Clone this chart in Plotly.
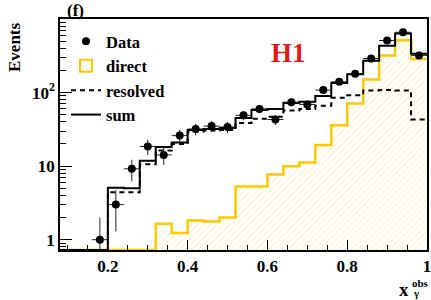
import plotly.graph_objects as go

# ---- data ----
bin_lo = [0.08, 0.12, 0.16, 0.20, 0.24, 0.28, 0.32, 0.36, 0.40, 0.44, 0.48, 0.52,
          0.56, 0.60, 0.64, 0.68, 0.72, 0.76, 0.80, 0.84, 0.88, 0.92, 0.96]
bin_hi_last = 1.0
direct = [0, 0, 0, 0, 0, 0, 1.65, 1.23, 1.83, 1.77, 2.01, 5.3,
          5.3, 7.7, 9.95, 11.2, 19.4, 36, 71, 150, 320, 515, 285]
resolved = [0, 0, 0, 4.4, 4.4, 10.6, 16.3, 20, 29.5, 30.5, 31, 38.5,
            44, 47, 57, 60, 66, 85, 92, 107, 108, 107, 43]
total = [0, 0, 0, 5.1, 5.0, 11.8, 18.2, 21, 31, 32, 33, 45,
         58, 60, 72, 75, 90, 135, 178, 270, 432, 635, 338]

data_x = [0.18, 0.22, 0.26, 0.30, 0.34, 0.38, 0.42, 0.46, 0.50, 0.54, 0.58,
          0.62, 0.66, 0.70, 0.74, 0.78, 0.82, 0.86, 0.90, 0.94, 0.98]
data_y = [1, 3, 9.2, 18.5, 14.2, 26, 32, 35, 34, 49, 60,
          43, 74, 69, 108, 140, 180, 290, 510, 660, 320]
data_err_hi = [1, 1.7, 3, 4.3, 3.8, 5.1, 5.7, 5.9, 5.8, 7, 7.7,
               6.6, 8.6, 8.3, 10.4, 11.8, 13.4, 17, 22.6, 25.7, 17.9]
data_err_lo = [0.99, 1.7, 3, 4.3, 3.8, 5.1, 5.7, 5.9, 5.8, 7, 7.7,
               6.6, 8.6, 8.3, 10.4, 11.8, 13.4, 17, 22.6, 25.7, 17.9]
half_bin = 0.02

YLOG = [-0.14, 3.0]
ymin = 10 ** YLOG[0]

def step(vals):
    v = [x if x > 0 else ymin for x in vals]
    return list(bin_lo) + [bin_hi_last], v + [v[-1]]

FONT = "Liberation Serif"
YEL = "#ffc800"

fig = go.Figure()

sx, sy = step(direct)
fig.add_trace(go.Scatter(x=sx, y=sy, mode="lines", line=dict(color=YEL, width=2.5, shape="hv"),
                         fill="tozeroy", fillcolor="rgba(0,0,0,0)",
                         fillpattern=dict(shape="/", fgcolor="#f8d44c", bgcolor="white", size=4.5, solidity=0.2),
                         showlegend=False, hoverinfo="skip"))
rx, ry = step(resolved)
fig.add_trace(go.Scatter(x=rx, y=ry, mode="lines", name="resolved", legendrank=3,
                         line=dict(color="black", width=2, dash="5px,4px", shape="hv")))
tx, ty = step(total)
fig.add_trace(go.Scatter(x=tx, y=ty, mode="lines", name="sum", legendrank=4,
                         line=dict(color="black", width=2, shape="hv")))
fig.add_trace(go.Scatter(x=data_x, y=data_y, mode="markers", name="Data", legendrank=1,
                         marker=dict(color="black", size=8),
                         error_y=dict(type="data", array=data_err_hi, arrayminus=data_err_lo,
                                      color="#222", thickness=1, width=0),
                         error_x=dict(type="constant", value=half_bin, color="#222", thickness=1, width=0)))
# legend entry for the hatched direct histogram
fig.add_trace(go.Bar(x=[None], y=[None], name="direct", legendrank=2,
                     marker=dict(color="white", line=dict(color=YEL, width=2),
                                 pattern=dict(shape="/", fgcolor="#f8d44c", bgcolor="white", size=4, solidity=0.25))))

axis_common = dict(showline=True, linecolor="black", linewidth=1.5, mirror=True,
                   showgrid=False, zeroline=False, ticks="inside", tickcolor="black",
                   ticklabeloverflow="allow",
                   tickfont=dict(family=FONT, size=17, color="black", weight="bold"))

fig.update_xaxes(range=[0.08, 1.0], tickvals=[0.2, 0.4, 0.6, 0.8, 1.0],
                 ticktext=["0.2", "0.4", "0.6", "0.8", "1"], ticklen=10, tickwidth=1,
                 minor=dict(dtick=0.05, tick0=0, ticks="inside", ticklen=5, tickcolor="black", tickwidth=1),
                 **axis_common)
fig.update_yaxes(type="log", range=YLOG, tickvals=[1, 10, 100], ticktext=["1", "10", "10<sup>2</sup>"],
                 ticklen=12, tickwidth=1,
                 minor=dict(dtick="D1", ticks="inside", ticklen=6, tickcolor="black", tickwidth=1),
                 **axis_common)

W, H = 431, 300
PL, PR, PT, PB = 60, 427, 19, 250          # plot-area edges in pixels
L, T, R, B = PL, PT, W - PR, H - PB
pw, ph = PR - PL, PB - PT

def px(x):
    return (x - PL) / pw

def py(y):
    return (PB - y) / ph

ann = [
    dict(text="(f)", x=px(66), y=py(10), xanchor="left", yanchor="middle", font=dict(size=17)),
    dict(text="H1", x=px(288), y=py(53), xanchor="center", yanchor="middle",
         font=dict(size=27, color="#e3181d")),
    dict(text="Events", x=px(14), y=py(21), xanchor="center", yanchor="top", textangle=-90,
         font=dict(size=17)),
    dict(text="x", x=px(410), y=py(289), xanchor="right", yanchor="middle", font=dict(size=19)),
    dict(text="γ", x=px(412), y=py(293), xanchor="left", yanchor="middle", font=dict(size=11)),
    dict(text="obs", x=px(411), y=py(283), xanchor="left", yanchor="middle", font=dict(size=11)),
]
for a in ann:
    a.update(xref="paper", yref="paper", showarrow=False, borderpad=0)
    a["font"] = dict(family=FONT, color=a["font"].get("color", "black"), size=a["font"]["size"], weight="bold")

fig.update_layout(
    width=W, height=H, margin=dict(l=L, r=R, t=T, b=B, autoexpand=False),
    paper_bgcolor="white", plot_bgcolor="white",
    annotations=ann,
    showlegend=True,
    legend=dict(x=px(66), y=py(24), xanchor="left", yanchor="top", bgcolor="rgba(0,0,0,0)",
                font=dict(family=FONT, size=16.5, color="black", weight="bold"),
                itemwidth=30, tracegroupgap=0),
)

# remove the browser's default 8px page margin so the figure fills the window
fig.write_html("out.html", config={"displayModeBar": False},
               post_script="document.body.style.margin='0';")
